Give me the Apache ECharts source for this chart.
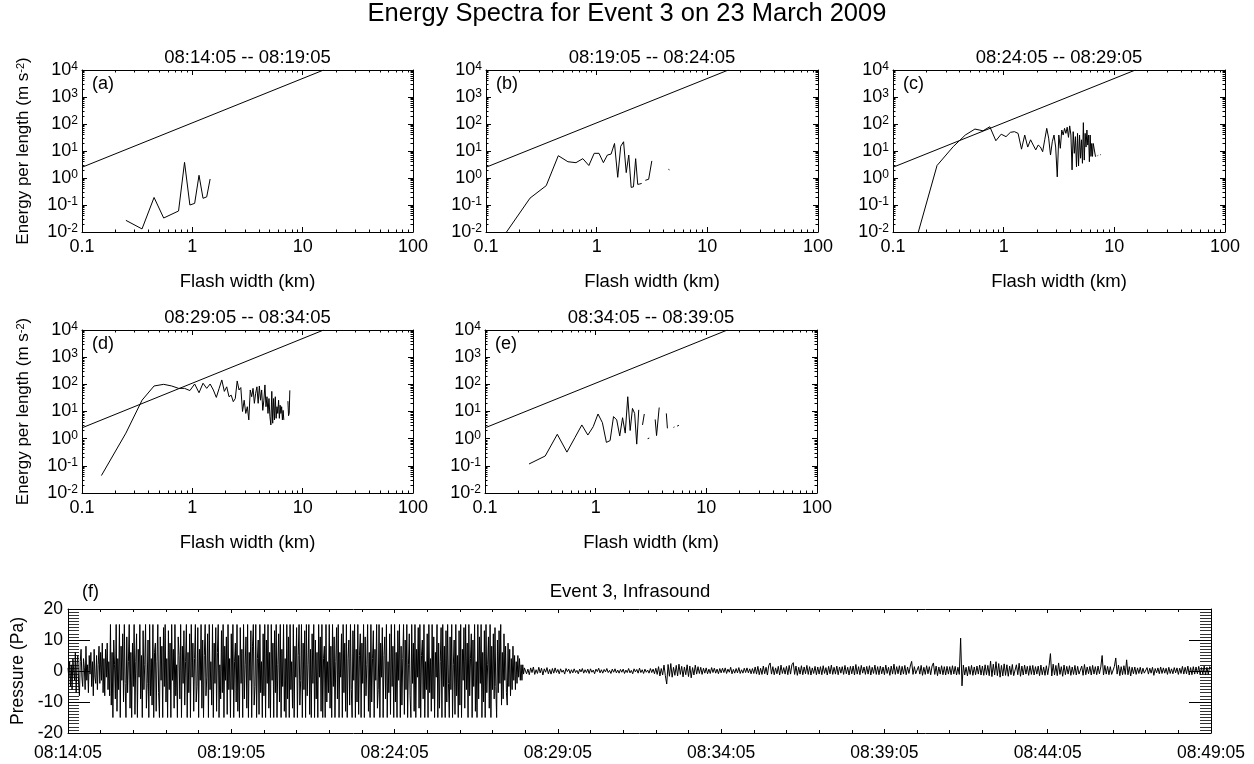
<!DOCTYPE html>
<html>
<head>
<meta charset="utf-8">
<title>Energy Spectra for Event 3</title>
<script src="https://cdn.jsdelivr.net/npm/echarts@6/dist/echarts.min.js"></script>
<style>
  html, body { margin: 0; padding: 0; background: #fff; }
  #chart { width: 1254px; height: 764px; }
</style>
</head>
<body>
<div id="chart"></div>
<script>
const FONT = '"Liberation Sans", Arial, Helvetica, sans-serif';

// tick labels
const W_TICKS = ['0.1', '1', '10', '100'];
const E_EXPONENTS = ['-2', '-1', '0', '1', '2', '3', '4'];
const TIME_TICKS = ['08:14:05', '08:19:05', '08:24:05', '08:29:05', '08:34:05', '08:39:05', '08:44:05', '08:49:05'];
const PRESSURE_TICKS = ['-20', '-10', '0', '10', '20'];

const PANEL_TITLES = ['08:14:05 -- 08:19:05', '08:19:05 -- 08:24:05', '08:24:05 -- 08:29:05', '08:29:05 -- 08:34:05', '08:34:05 -- 08:39:05'];
const PANEL_TAGS = ['(a)', '(b)', '(c)', '(d)', '(e)'];

// straight reference line, same in every panel (km, m s^-2)
const refLine = [[0.1, 2.5], [15.5, 10000]];

// energy per length by flash-width bin, [width km, energy], null = no data
const spectrumA = [[0.25, 0.027], [0.35, 0.013], [0.45, 0.19], [0.55, 0.033], [0.75, 0.06], [0.85, 3.8],
  [0.95, 0.1], [1.05, 0.115], [1.15, 1.26], [1.25, 0.177], [1.35, 0.2], [1.45, 0.92]];

const spectrumB = [[0.15, 0.0088], [0.25, 0.18], [0.35, 0.52], [0.45, 6.7], [0.55, 4.0], [0.65, 3.7], [0.75, 5.2],
  [0.85, 2.9], [0.95, 8.2], [1.05, 8.2], [1.15, 3.7], [1.25, 7.1], [1.35, 7.7], [1.45, 19], [1.55, 1.06],
  [1.65, 15], [1.75, 22], [1.85, 1.58], [1.95, 7.1], [2.05, 0.45], [2.15, 0.47], [2.25, 5.2], [2.35, 0.58],
  [2.45, 0.6], [2.55, 0.63], [2.65, null], [2.75, 0.82], [2.85, 0.86], [2.95, 0.9], [3.05, 1.0], [3.15, 4.3],
  [3.25, null], [4.45, 2.1], [4.55, 2.0]];

const spectrumC = [[0.15, 0.0017], [0.25, 2.9], [0.35, 14.5], [0.45, 39], [0.55, 65], [0.65, 56], [0.75, 79],
  [0.85, 24], [0.95, 42], [1.05, 34], [1.15, 49], [1.25, 52], [1.35, 45], [1.45, 11.7], [1.55, 39], [1.65, 14],
  [1.75, 26], [1.85, 16.6], [1.95, 11], [2.05, 16.6], [2.15, 14], [2.25, 9.4], [2.35, 26], [2.45, 69], [2.55, 30],
  [2.65, 7.1], [2.75, 22], [2.85, 39], [2.95, 14], [3.05, 1.1], [3.15, 39], [3.25, 12.6], [3.35, 60], [3.45, 39],
  [3.55, 69], [3.65, 45], [3.75, 76], [3.85, 32], [3.95, 85], [4.05, 39], [4.15, 2.0], [4.25, 52], [4.35, 8.2],
  [4.45, 34], [4.55, 2.6], [4.65, 45], [4.75, 2.8], [4.85, 39], [4.95, 5.4], [5.05, 26], [5.15, 3.5], [5.25, 112],
  [5.35, 4.6], [5.45, 45], [5.55, 14], [5.65, 60], [5.75, 16.6], [5.85, 39], [5.95, 4.0], [6.05, 39], [6.15, 6.3],
  [6.25, 19], [6.35, 6.3], [6.45, 19], [6.55, 18], [6.65, 18], [6.75, 6.3], [6.85, 6.5], [6.95, null],
  [7.05, 6.7], [7.15, 6.9], [7.25, null], [7.45, 7.2], [7.55, 7.4], [7.65, null], [7.85, 7.8], [7.95, 8.0]];

const spectrumD = [[0.15, 0.044], [0.25, 1.6], [0.35, 26], [0.45, 87], [0.55, 100], [0.65, 87], [0.75, 71],
  [0.85, 71], [0.95, 59], [1.05, 103], [1.15, 49], [1.25, 110], [1.35, 71], [1.45, 103], [1.55, 62], [1.65, 33],
  [1.75, 71], [1.85, 145], [1.95, 55], [2.05, 81], [2.15, 35], [2.25, 40], [2.35, 23], [2.45, 30], [2.55, 133],
  [2.65, 62], [2.75, 76], [2.85, 10], [2.95, 26], [3.05, 8.5], [3.15, 15], [3.25, 4.9], [3.35, 62], [3.45, 35],
  [3.55, 71], [3.65, 20], [3.75, 47], [3.85, 81], [3.95, 20], [4.05, 87], [4.15, 26], [4.25, 62], [4.35, 11],
  [4.45, 26], [4.55, 95], [4.65, 15], [4.75, 35], [4.85, 8.5], [4.95, 30], [5.05, 6.4], [5.15, 3.2], [5.25, 55],
  [5.35, 3.7], [5.45, 30], [5.55, 4.9], [5.65, 35], [5.75, 5.6], [5.85, 15], [5.95, 8.5], [6.05, 26], [6.15, 5.6],
  [6.25, 17], [6.35, 8.5], [6.45, 15], [6.55, 4.9], [6.65, 11], [6.75, 4.9], [6.85, null],
  [7.35, 24], [7.45, 7], [7.55, 8.5], [7.65, 60], [7.75, null], [9.05, 9.8], [9.15, 9.8]];

const spectrumE = [[0.25, 0.117], [0.35, 0.23], [0.45, 1.45], [0.55, 0.32], [0.65, 1.1], [0.75, 3.2], [0.85, 1.36],
  [0.95, 2.75], [1.05, 8.1], [1.15, 3.9], [1.25, 0.73], [1.35, 0.85], [1.45, 6.5], [1.55, 4.9], [1.65, 1.26],
  [1.75, 5.9], [1.85, 1.6], [1.95, 35], [2.05, 2.0], [2.15, 13], [2.25, 8.5], [2.35, 0.63], [2.45, 11.5],
  [2.55, null], [2.65, 3.2], [2.75, 8.1], [2.85, null], [2.95, 1.0], [3.05, 1.05], [3.15, null],
  [3.45, 5.1], [3.55, 1.3], [3.65, 1.4], [3.75, 14], [3.85, null], [4.35, 8.5], [4.45, 2.4], [4.55, null],
  [5.05, 2.6], [5.15, 2.7], [5.25, null], [5.45, 2.9], [5.55, 3.0], [5.65, 3.1]];

// infrasound pressure (Pa); loud part sampled every 1.5 s from 08:14:05, one row per minute
const LOUD_STEP = 1.5;
const loudPressure = [
  1, -2, 3, -5, 2, -6, 4, 0, -3, 6, -7, 2, 5, -4, -8, 3, 7, -2, -5, 4, 1, -6, 8, -3, 2, -7, 5, -1, 6, -5, 3, -8, 7, -2, -4, 5, -6, 2, 8, -4,
  6, -3, 9, -7, 4, -8, 7, -2, 9, -6, 3, -8, 15, -11, 6, -15, 10, 2, -9, 15, -13, 4, -6, 15, -15, 8, -3, 12, -10, 15, -4, -15, 11, -7, 3, 15, -12, 6, -15, 9,
  -5, 15, -14, 3, 12, -15, 7, -2, 15, -9, 5, -15, 13, -6, 2, 15, -12, -4, 10, -15, 15, -8, 4, -11, 15, -15, 6, 9, -13, 3, 15, -7, -15, 11, -3, 8, -15, 14, -5, 15,
  -10, 4, -15, 13, -6, 9, -15, 15, -3, 7, -12, 15, -8, 2, -15, 11, 5, -9, 15, -15, 8, -4, 13, -11, 3, 15, -15, 6, -7, 12, -15, 15, -2, 9, -13, 4, 15, -10, -5, 14,
  -15, 7, -3, 15, -12, 10, -15, 5, 15, -8, -2, 12, -15, 15, -6, 3, -11, 15, -15, 9, -4, 14, -13, 6, 15, -15, 2, -9, 13, -7, 15, -15, 8, -3, 11, -14, 15, -6, 4, -15,
  12, -6, 15, -15, 3, 9, -10, 15, -13, 5, -15, 14, -4, 7, -15, 15, -9, 2, 11, -12, 15, -15, 6, -3, 13, -15, 8, 15, -11, -5, 15, -15, 4, 10, -14, 15, -7, 3, -15, 12,
  -8, 15, -15, 10, -4, 15, -12, 6, -15, 15, -3, 9, -15, 13, -7, 15, -15, 2, 12, -10, 15, -15, 7, -5, 15, -13, 4, -15, 15, -9, 11, -15, 15, -6, 3, -12, 15, -15, 8, -2,
  14, -15, 5, 15, -11, -3, 15, -15, 9, -6, 13, -15, 15, -8, 2, 15, -14, 7, -15, 12, -4, 15, -15, 10, -9, 6, -15, 15, -2, 11, -13, 15, -15, 4, 8, -15, 15, -10, 3, -7,
  15, -12, 8, -15, 15, -5, 11, -15, 3, 14, -9, 15, -15, 6, -2, 12, -15, 15, -7, 9, -13, 15, -15, 4, 10, -11, 15, -6, -15, 13, -3, 15, -15, 7, -10, 15, -14, 5, 12, -15,
  9, -4, 15, -15, 11, -8, 2, 15, -13, 6, -15, 15, -10, 4, 13, -15, 7, -3, 15, -12, -6, 15, -15, 9, -2, 14, -15, 5, 11, -9, 15, -15, 3, -7, 12, -14, 15, -5, 8, -15,
  15, -10, 6, -15, 13, -3, 15, -15, 8, -11, 4, 15, -14, 10, -6, 15, -15, 2, 12, -8, -15, 15, -4, 9, -13, 15, -15, 7, -2, 14, -12, 15, -15, 5, 10, -9, 15, -15, 3, -6,
  12, -15, 15, -7, 4, -13, 15, -9, 11, -15, 6, -2, 15, -15, 9, -12, 3, 14, -15, 15, -5, 8, -15, 13, -10, 15, -4, -15, 11, -6, 15, -15, 2, 10, -14, 15, -8, 5, -15, 13,
  -11, 15, -15, 7, -3, 14, -12, 15, -6, 9, -15, 15, -8, 4, 12, -15, 10, -5, 15, -13, 3, -15, 15, -9, 11, -4, 15, -15, 6, -10, 13, -15, 15, -7, 2, 11, -12, 15, -15, 8,
  -6, 12, -9, 14, -5, -15, 10, -7, 13, -4, 15, -11, 6, -9, 12, -3, 8, -7, -11, 9, -5, 7, -8, 4, -6, 8, -3, 5, -6, 3, -4, 5, -2, 4, -3, 2, -3, 2, -1, 1
];

// quiet part sampled every 2.5 s from 08:28:05, one row per minute
const QUIET_START = 840;
const QUIET_STEP = 2.5;
const quietPressure = [
  1.4, -0.9, 0.6, -1.2, 1.0, -0.5, 1.3, -1.1, 0.4, -0.8, 1.2, -0.6, 0.9, -1.3, 0.7, -0.4, 1.1, -0.9, 0.5, -1.0, 0.8, -0.7, 1.0, -0.5,
  0.5, -0.9, 0.7, -0.4, 0.3, -1.0, 0.8, -0.2, 0.6, -0.8, 0.4, -0.6, 0.7, -0.5, 0.2, -0.9, 0.6, -0.3, 0.8, -0.7, 0.4, -0.5, 0.6, -0.8,
  0.7, -0.4, 0.3, -0.9, 0.6, -0.2, 0.9, -0.6, 0.4, -0.7, 0.5, -0.3, 0.8, -0.5, 0.2, -0.8, 0.6, -0.4, 0.7, -0.6, 0.3, -0.7, 0.5, -0.4,
  0.6, -0.8, 0.3, -0.5, 0.8, -0.6, 0.2, -0.9, 0.7, -0.3, 0.5, -0.7, 0.9, -0.5, 0.4, -0.8, 0.6, -0.4, 0.3, -0.7, 0.8, -0.5, 0.6, -0.9,
  0.9, -1.1, 1.4, -1.6, 0.8, -1.3, 1.9, -1.5, -4.2, 2.1, -1.7, 2.4, -2.0, 1.2, -1.4, 1.8, -1.6, 2.2, -1.1, 1.5, -1.9, 1.3, -1.2, 2.0,
  -1.8, 1.6, -2.2, 1.1, -1.3, 1.9, -1.0, 1.4, -0.8, 1.2, -1.1, 0.9, -0.7, 1.0, -0.9, 0.6, -0.8, 1.1, -0.5, 0.9, -0.7, 0.6, -0.9, 0.8,
  -0.6, 0.9, -0.5, 1.0, -0.8, 0.6, -0.4, 1.2, -0.9, 0.5, -0.7, 0.8, -0.6, 1.1, -0.8, 0.4, -0.7, 0.9, -0.5, 1.0, -0.6, 0.7, -0.9, 0.8,
  -0.8, 1.3, -1.0, 1.5, -1.2, 0.9, -1.1, 1.6, -0.9, 1.2, -1.3, 1.8, 2.6, -1.0, 1.4, -1.2, 1.0, -0.9, 1.5, -1.3, 1.9, -0.8, 1.1, -1.0,
  1.5, -1.2, 1.8, -1.0, 2.0, 2.7, -1.1, 1.6, -1.4, 1.2, -1.0, 1.7, -1.2, 1.3, -0.9, 1.8, -1.1, 1.4, -1.3, 1.0, -0.8, 1.5, -1.2, 1.3,
  -1.0, 1.4, -1.2, 1.7, -0.8, 1.1, -1.3, 1.5, -0.9, 1.9, -1.1, 1.2, -1.0, 1.6, -1.2, 1.3, -0.7, 1.4, -1.1, 1.8, -0.9, 1.2, -1.3, 1.5,
  -0.9, 1.6, -1.3, 2.1, -1.0, 1.4, -1.2, 1.8, -0.7, 1.3, -1.1, 1.5, -1.0, 1.7, -1.3, 1.2, -0.8, 1.9, -1.1, 1.4, -1.2, 1.6, -0.9, 1.3,
  -1.2, 1.9, -0.8, 1.2, -1.4, 1.6, -1.0, 2.2, -1.1, 1.4, -0.9, 1.7, -1.3, 1.5, -1.0, 1.8, -1.2, 1.3, -0.8, 1.6, 3.1, -1.1, 1.4, -0.9,
  -1.3, 1.5, -1.0, 1.8, -1.4, 1.2, -1.1, 1.7, -0.9, 1.4, -1.2, 1.6, 2.6, -1.1, 1.6, -1.5, 1.3, -1.0, 1.7, -1.2, 1.4, -1.3, 1.5, -1.0,
  1.4, -1.2, 1.7, -1.0, 1.5, -1.3, 1.2, -1.1, 10.6, -4.8, 1.9, -1.3, 1.2, -1.6, 1.5, -1.1, 1.8, -1.4, 1.3, -1.2, 1.6, -1.0, 1.9, -1.3,
  1.6, -1.4, 2.0, -1.2, 1.8, -1.5, 3.2, -1.8, 2.2, -1.3, 3.0, -1.5, 2.4, -2.0, 1.8, -1.6, 2.3, -1.4, 2.0, -1.7, 1.6, -1.2, 2.1, -1.5,
  -1.5, 2.0, -1.2, 2.5, -1.7, 1.6, -1.3, 1.9, -1.0, 1.5, -1.4, 1.7, -1.1, 1.8, -1.3, 1.4, -1.0, 1.6, -1.5, 1.9, -1.2, 1.3, -1.4, 1.7,
  -1.2, 1.7, 5.6, -1.6, 2.2, -1.3, 1.8, -1.5, 2.6, -1.1, 1.4, -1.7, 1.9, -1.2, 1.5, -1.0, 1.7, -1.4, 1.3, -1.1, 1.8, -1.3, 1.5, -1.0,
  -1.0, 1.6, -1.4, 2.1, -1.2, 1.3, -0.9, 1.5, -1.3, 1.8, -1.0, 1.4, -1.2, 1.6, -0.9, 1.3, 5.0, -1.3, 1.8, -1.0, 1.5, -1.2, 1.4, -1.1,
  -1.2, 1.5, 4.2, -1.0, 1.9, -1.5, 1.4, -1.2, 1.7, -1.1, 3.6, -1.2, 1.4, -1.6, 1.2, -0.9, 1.3, -1.1, 1.0, -0.8, 1.2, -1.0, 0.9, -0.7,
  -0.8, 1.1, -1.0, 0.9, -0.7, 1.2, -1.4, 0.8, -0.6, 1.0, -0.9, 1.3, -0.8, 1.0, -0.7, 0.9, -1.1, 1.2, -0.8, 0.7, -0.9, 1.1, -0.6, 1.0,
  -1.1, 0.9, -0.8, 1.5, -1.0, 1.2, -0.9, 1.6, -1.3, 1.1, -1.2, 1.4, -1.0, 1.3, -0.9, 1.5, -1.2, 1.1, -1.0, 1.6, -1.3, 1.2, -1.1, 1.4, 0.8
];

// plot boxes in pixels
const panels = [
  { box: { left: 82, top: 70, width: 331, height: 162 }, data: spectrumA, yName: true },
  { box: { left: 486, top: 70, width: 332, height: 162 }, data: spectrumB },
  { box: { left: 893, top: 70, width: 332, height: 162 }, data: spectrumC },
  { box: { left: 82, top: 330, width: 331, height: 163 }, data: spectrumD, yName: true },
  { box: { left: 485, top: 330, width: 332, height: 163 }, data: spectrumE }
];
const infraBox = { left: 68, top: 609, width: 1143, height: 124 };

const black = { color: '#000', width: 1 };
const supStyle = size => ({ fontSize: size, fontFamily: FONT, color: '#000', verticalAlign: 'top' });

function widthAxis(gi, pos, labelled) {
  return {
    type: 'log', logBase: 10, gridIndex: gi, position: pos,
    min: 0.1, max: 100, splitNumber: 3,
    axisLine: { onZero: false, lineStyle: black },
    axisTick: { inside: true, length: 5, lineStyle: black },
    minorTick: { show: true, splitNumber: 9, length: 2.5, lineStyle: black },
    splitLine: { show: false },
    axisLabel: {
      show: labelled, margin: 6, color: '#000', fontSize: 18, fontFamily: FONT,
      formatter: v => W_TICKS[Math.round(Math.log10(v)) + 1]
    },
    name: labelled ? 'Flash width (km)' : '',
    nameLocation: 'middle', nameGap: 40,
    nameTextStyle: { color: '#000', fontSize: 18.5, fontFamily: FONT }
  };
}

function energyAxis(gi, pos, labelled, named) {
  return {
    type: 'log', logBase: 10, gridIndex: gi, position: pos,
    min: 0.01, max: 10000, splitNumber: 6,
    axisLine: { onZero: false, lineStyle: black },
    axisTick: { inside: true, length: 5, lineStyle: black },
    minorTick: { show: true, splitNumber: 9, length: 2.5, lineStyle: black },
    splitLine: { show: false },
    axisLabel: {
      show: labelled, margin: 4,
      formatter: v => '{b|10}{s|' + E_EXPONENTS[Math.round(Math.log10(v)) + 2] + '}',
      rich: { b: { fontSize: 18, fontFamily: FONT, color: '#000' }, s: supStyle(12) }
    },
    name: named ? 'Energy per length (m s{s|-2})' : '',
    nameLocation: 'middle', nameGap: 50, nameRotate: 90,
    nameTextStyle: { color: '#000', fontSize: 17, fontFamily: FONT, rich: { s: supStyle(11) } }
  };
}

function timeAxis(gi, pos, labelled) {
  return {
    type: 'value', gridIndex: gi, position: pos,
    min: 0, max: 2100, interval: 300,
    axisLine: { onZero: false, lineStyle: black },
    axisTick: { inside: true, length: 4, lineStyle: black },
    minorTick: { show: true, splitNumber: 5, length: 3, lineStyle: black },
    splitLine: { show: false },
    axisLabel: {
      show: labelled, margin: 11, color: '#000', fontSize: 17.5, fontFamily: FONT,
      formatter: v => TIME_TICKS[Math.round(v / 300)]
    }
  };
}

function pressureAxis(gi, pos, labelled) {
  return {
    type: 'value', gridIndex: gi, position: pos,
    min: -20, max: 20, interval: 10,
    axisLine: { onZero: false, lineStyle: black },
    axisTick: { inside: true, length: 22, lineStyle: black },
    minorTick: { show: true, splitNumber: 10, length: 11, lineStyle: { color: '#000', width: 0.8 } },
    splitLine: { show: false },
    axisLabel: {
      show: labelled, margin: 5, color: '#000', fontSize: 17.5, fontFamily: FONT,
      formatter: v => PRESSURE_TICKS[Math.round(v / 10) + 2]
    },
    name: labelled ? 'Pressure (Pa)' : '',
    nameLocation: 'middle', nameGap: 38, nameRotate: 90,
    nameTextStyle: { color: '#000', fontSize: 17.5, fontFamily: FONT }
  };
}

const grid = [], xAxis = [], yAxis = [], series = [], graphic = [];

function addText(text, x, y, size, align) {
  graphic.push({
    type: 'text', x: x, y: y, silent: true,
    style: { text: text, fontSize: size, fontFamily: FONT, fill: '#000', align: align || 'center', verticalAlign: 'middle' }
  });
}

addText('Energy Spectra for Event 3 on 23 March 2009', 627, 14, 25.5);

panels.forEach((p, i) => {
  grid.push(Object.assign({ outerBoundsMode: 'none' }, p.box));
  xAxis.push(widthAxis(i, 'bottom', true), widthAxis(i, 'top', false));
  yAxis.push(energyAxis(i, 'left', true, !!p.yName), energyAxis(i, 'right', false, false));
  const line = {
    type: 'line', xAxisIndex: 2 * i, yAxisIndex: 2 * i, symbol: 'none', silent: true,
    lineStyle: { color: '#000', width: 1 }, connectNulls: false
  };
  series.push(Object.assign({}, line, { data: refLine }));
  series.push(Object.assign({}, line, { data: p.data }));
  const cx = p.box.left + p.box.width / 2;
  addText(PANEL_TITLES[i], cx, p.box.top - 12, 18.5);
  addText(PANEL_TAGS[i], p.box.left + 10, p.box.top + 14, 18, 'left');
});

// infrasound panel
const fi = panels.length;
grid.push(Object.assign({ outerBoundsMode: 'none' }, infraBox));
xAxis.push(timeAxis(fi, 'bottom', true), timeAxis(fi, 'top', false));
yAxis.push(pressureAxis(fi, 'left', true), pressureAxis(fi, 'right', false));

const pressureData = loudPressure.map((v, i) => [i * LOUD_STEP, v])
  .concat(quietPressure.map((v, i) => [QUIET_START + i * QUIET_STEP, v]));

series.push({
  type: 'line', xAxisIndex: 2 * fi, yAxisIndex: 2 * fi, symbol: 'none', silent: true,
  lineStyle: { color: '#000', width: 1 }, data: pressureData
});
addText('Event 3, Infrasound', 630, 592, 18.5);
addText('(f)', 82, 592, 18, 'left');

const chart = echarts.init(document.getElementById('chart'), null, { renderer: 'canvas' });
chart.setOption({
  animation: false,
  backgroundColor: '#fff',
  textStyle: { fontFamily: FONT },
  grid: grid,
  xAxis: xAxis,
  yAxis: yAxis,
  series: series,
  graphic: graphic
});
</script>
</body>
</html>
